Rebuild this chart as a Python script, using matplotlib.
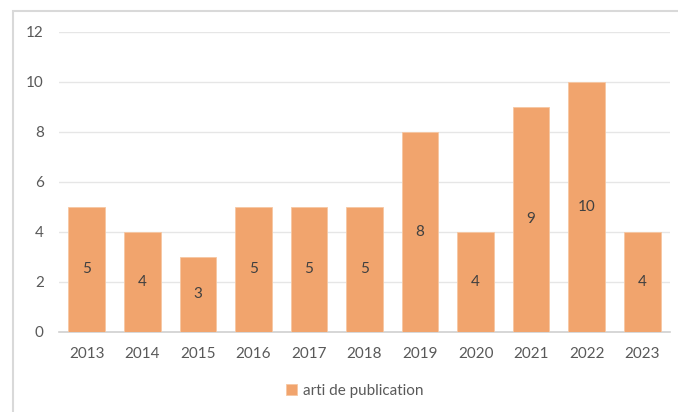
import matplotlib.pyplot as plt
from matplotlib.patches import Rectangle

# données
years = ['2013', '2014', '2015', '2016', '2017', '2018', '2019', '2020', '2021', '2022', '2023']
counts = [5, 4, 3, 5, 5, 5, 8, 4, 9, 10, 4]
series_name = 'arti de publication'
y_ticks = [0, 2, 4, 6, 8, 10, 12]

plt.rcParams['font.family'] = ['Lato', 'DejaVu Sans']
text_color = '#595959'
bar_color = '#F1A46D'

fig = plt.figure(figsize=(6.78, 4.12), dpi=100)

# cadre du graphique
fig.patches.append(Rectangle((13 / 678, -0.1), 1.2, (412 - 11) / 412 + 0.1,
                             transform=fig.transFigure, fill=False,
                             edgecolor='#D9D9D9', linewidth=1.5, zorder=0))

ax = fig.add_axes([59 / 678, (412 - 331.7) / 412, 611 / 678, 300 / 412])
x = range(len(years))
bars = ax.bar(x, counts, width=0.66, color=bar_color, edgecolor='#F6C7A2',
              linewidth=0.6, label=series_name, zorder=3)

# étiquettes au centre des barres
for rect, v in zip(bars, counts):
    ax.text(rect.get_x() + rect.get_width() / 2, v / 2, str(v),
            ha='center', va='center', fontsize=11, color='#404040', zorder=4)

ax.set_xlim(-0.5, len(years) - 0.5)
ax.set_ylim(0, 12)
ax.set_yticks(y_ticks)
ax.set_xticks(list(x))
ax.set_xticklabels(years)
ax.tick_params(axis='both', length=0, labelsize=11, labelcolor=text_color)
ax.tick_params(axis='y', pad=11)
ax.tick_params(axis='x', pad=11)

ax.grid(axis='y', color='#E6E6E6', linewidth=1, zorder=0)
ax.set_axisbelow(True)
for side in ['top', 'right', 'left']:
    ax.spines[side].set_visible(False)
ax.spines['bottom'].set_color('#D0D0D0')
ax.spines['bottom'].set_linewidth(1.2)

fig.legend(handles=[bars], labels=[series_name], loc='center',
           bbox_to_anchor=(355 / 678, 1 - 391 / 412), frameon=False,
           fontsize=11, labelcolor=text_color, handlelength=0.7,
           handleheight=0.7, handletextpad=0.4)

fig.savefig('out.png', dpi=100, facecolor='white')
